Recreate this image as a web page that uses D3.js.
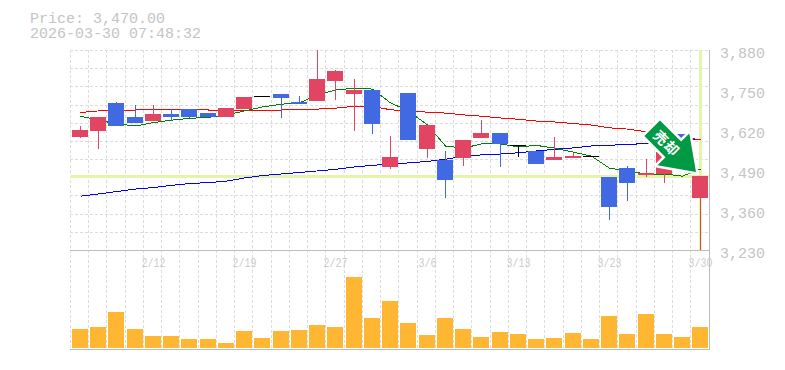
<!DOCTYPE html>
<html><head><meta charset="utf-8">
<script src="https://cdnjs.cloudflare.com/ajax/libs/d3/7.8.5/d3.min.js"></script>
<style>html,body{margin:0;padding:0;background:#fff}svg{display:block}</style></head>
<body><svg id="c" width="785" height="370"></svg>
<script>
const priceLabel = "Price: 3,470.00";
const timeLabel = "2026-03-30 07:48:32";
const opens  = [3597,3617,3708,3662,3649,3672,3688,3675,3662,3688,3730,3737,3711,3714,3779,3737,3750,3500,3740,3558,3522,3529,3594,3610,3571,3552,3522,3529,3535,3467,3497,3474,3477,3607,3399];
const closes = [3620,3662,3633,3643,3672,3662,3662,3662,3692,3727,3730,3724,3704,3786,3812,3750,3640,3532,3588,3636,3458,3588,3610,3575,3571,3510,3532,3536,3535,3370,3448,3480,3548,3549,3470];
const highs  = [3633,3662,3711,3701,3701,3688,3688,3675,3692,3727,3730,3737,3730,3880,3815,3786,3750,3600,3740,3636,3552,3588,3652,3610,3571,3552,3597,3545,3535,3467,3503,3526,3548,3607,3470];
const lows   = [3594,3558,3633,3643,3649,3649,3659,3662,3662,3688,3730,3659,3704,3714,3717,3617,3607,3493,3588,3529,3399,3503,3594,3500,3532,3510,3522,3529,3535,3327,3389,3467,3448,3549,3230];
const ma5   = [3665,3652,3640,3633,3644,3652,3658,3661,3669,3682,3695,3704,3708,3734,3750,3756,3753,3708,3682,3636,3568,3561,3575,3575,3565,3570,3561,3548,3535,3496,3487,3477,3477,3470,3493];
const ma25  = [3677,3682,3685,3685,3688,3688,3688,3685,3685,3685,3685,3685,3686,3688,3691,3697,3696,3686,3681,3678,3675,3669,3665,3659,3655,3649,3646,3641,3636,3627,3623,3614,3607,3597,3588];
const ma75  = [3405,3412,3420,3428,3433,3440,3446,3449,3454,3464,3472,3477,3482,3487,3492,3500,3505,3510,3513,3518,3525,3535,3539,3542,3546,3552,3557,3562,3568,3570,3574,3575,3582,3588,3590];
const volumes = [19,21,36,19,12,12,9,9,5,17,10,17,18,23,21,71,30,47,25,13,30,19,11,16,14,9,10,15,9,32,14,34,14,11,21];
const dateLabels = ["","","","","2/12","","","","","2/19","","","","","2/27","","","","","3/6","","","","","3/13","","","","","3/23","","","","","3/30"];
const priceTicks = [3230,3360,3490,3620,3750,3880];
const cursorPrice = 3470;
const arrowText = "売却";

const svg = d3.select("#c");
const idx = d3.range(opens.length);
const x = d3.scaleBand().domain(idx).range([70,708.75]).paddingInner(0).paddingOuter(0);
const y = d3.scaleLinear().domain([3230,3880]).range([250,50]);
const yVol = d3.scaleLinear().domain([0,100]).range([348,248]);
const px = v => Math.ceil(v-0.5);
const barL = i => px(x(i)+2);
const mid = i => barL(i)+8;
const GRID="#dcdcdc", FRAME="#bcbcbc", TXT="#c4c4c4", RED="#e24561", BLUE="#4169e1", VOL="#ffb733", CUR="#e3f5a9";
const font = "'Liberation Mono',monospace";

// grid
const grid = svg.append("g").attr("stroke",GRID).attr("stroke-dasharray","3,2").attr("shape-rendering","crispEdges");
d3.range(0,12).forEach(k=>{const g=Math.round(50+k*200/11)+.5; grid.append("line").attr("x1",70).attr("x2",709).attr("y1",g).attr("y2",g);});
idx.forEach(k=>{const g=px(x(k))+.5; grid.append("line").attr("x1",g).attr("x2",g).attr("y1",50).attr("y2",350);});

// cursor
const cur = svg.append("g").attr("stroke",CUR).attr("stroke-width",3).attr("shape-rendering","crispEdges");
cur.append("line").attr("x1",70).attr("x2",709).attr("y1",y(cursorPrice)+.5).attr("y2",y(cursorPrice)+.5);
cur.append("line").attr("x1",mid(34)+.5).attr("x2",mid(34)+.5).attr("y1",50).attr("y2",250);

// MAs
const line = d3.line().x((d,i)=>mid(i)+.5).y(d=>y(d));
[[ma75,"#0000ff"],[ma25,"#ff0000"],[ma5,"#008000"]].forEach(([s,c])=>{
  svg.append("path").attr("d",line(s)).attr("fill","none").attr("stroke",c).attr("stroke-width",1).attr("shape-rendering","crispEdges");
});

// candles
const cand = svg.append("g").attr("shape-rendering","crispEdges");
idx.forEach(i=>{
  const doji = opens[i]===closes[i], col = doji?"#000":(closes[i]>opens[i]?RED:BLUE);
  cand.append("rect").attr("x",mid(i)).attr("width",1).attr("y",y(highs[i])).attr("height",y(lows[i])-y(highs[i])).attr("fill",col);
  const t = y(Math.max(opens[i],closes[i])), b = y(Math.min(opens[i],closes[i]));
  cand.append("rect").attr("x",barL(i)).attr("width",16).attr("y",t).attr("height",Math.max(b-t,1)).attr("fill",col);
});

// volume
svg.append("g").attr("shape-rendering","crispEdges").selectAll("rect").data(volumes).join("rect")
  .attr("x",(d,i)=>barL(i)).attr("width",16)
  .attr("y",d=>yVol(d)).attr("height",d=>yVol(0)-yVol(d)).attr("fill",VOL);

// frame
const fr = svg.append("g").attr("stroke",FRAME).attr("shape-rendering","crispEdges");
fr.append("line").attr("x1",70).attr("x2",710).attr("y1",250.5).attr("y2",250.5);
fr.append("line").attr("x1",70).attr("x2",710).attr("y1",349.5).attr("y2",349.5);
fr.append("line").attr("x1",709.5).attr("x2",709.5).attr("y1",50).attr("y2",350);

// text
const t = svg.append("g").attr("font-family",font).attr("fill",TXT);
t.append("text").attr("x",30).attr("y",23).attr("font-size",15).text(priceLabel);
t.append("text").attr("x",30).attr("y",37.5).attr("font-size",15).text(timeLabel);
priceTicks.forEach(p=>t.append("text").attr("x",720).attr("y",y(p)+8).attr("font-size",15).text(d3.format(",")(p)));
dateLabels.forEach((d,i)=>{ if(d) t.append("text").attr("x",mid(i)+.5).attr("y",267).attr("text-anchor","middle").attr("font-size",13).attr("fill","#cccccc")
   .attr("textLength",d.length*6).attr("lengthAdjust","spacingAndGlyphs").text(d); });

// arrow
const ag = svg.append("g").attr("transform","translate(696,172) rotate(-45)");
const sw=11, hw=22.5, hl=32, len=62;
const pts = [[0,0],[-hw,-hl],[-sw,-hl],[-sw,-len],[sw,-len],[sw,-hl],[hw,-hl]];
ag.append("polygon").attr("points",pts.join(" ")).attr("fill","#009944").attr("stroke","#fff").attr("stroke-width",5).attr("stroke-linejoin","round").attr("paint-order","stroke");
svg.append("text").attr("transform","translate(666.5,143.5) rotate(45)").attr("text-anchor","middle").attr("dy","0.36em")
  .attr("font-family","'Noto Sans CJK JP'").attr("font-weight",700).attr("font-size",14).attr("letter-spacing",1).attr("fill","#fff").text(arrowText);
</script></body></html>
